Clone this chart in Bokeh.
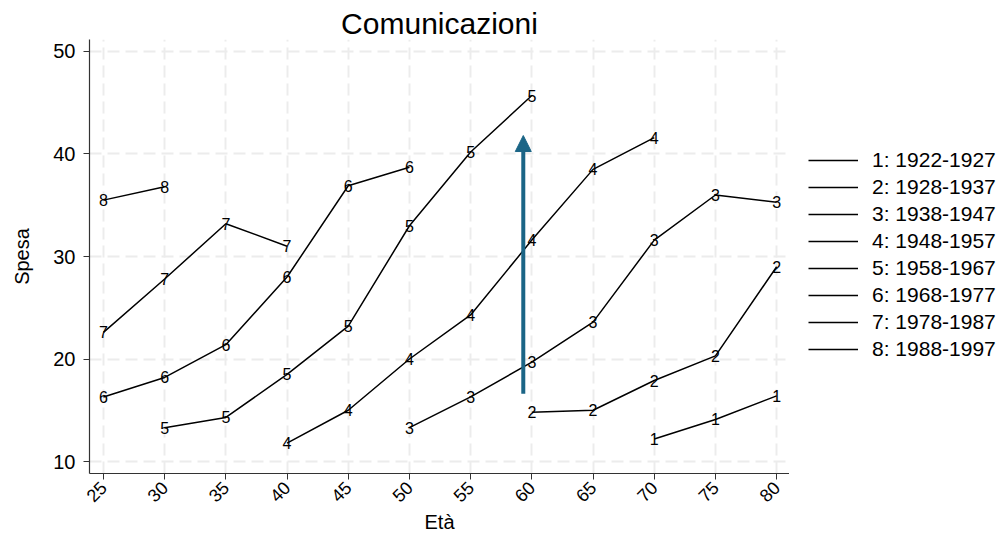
import numpy as np
from bokeh.plotting import figure
from bokeh.layouts import row
from bokeh.models import (ColumnDataSource, Legend, LegendItem, Arrow, NormalHead,
                          FixedTicker, Range1d)
from bokeh.core.properties import value
from bokeh.embed import file_html
from bokeh.resources import INLINE

# ---------------- data ----------------
title_text = "Comunicazioni"
x_label = "Età"
y_label = "Spesa"
x_ticks = [25, 30, 35, 40, 45, 50, 55, 60, 65, 70, 75, 80]
y_ticks = [10, 20, 30, 40, 50]

cohort_ids = ["1", "2", "3", "4", "5", "6", "7", "8"]
cohort_labels = ["1: 1922-1927", "2: 1928-1937", "3: 1938-1947", "4: 1948-1957",
                 "5: 1958-1967", "6: 1968-1977", "7: 1978-1987", "8: 1988-1997"]

age_c1 = [70, 75, 80]
spesa_c1 = [12.2, 14.1, 16.4]
age_c2 = [60, 65, 70, 75, 80]
spesa_c2 = [14.8, 15.0, 17.9, 20.3, 29.0]
age_c3 = [50, 55, 60, 65, 70, 75, 80]
spesa_c3 = [13.3, 16.3, 19.7, 23.6, 31.6, 36.0, 35.3]
age_c4 = [40, 45, 50, 55, 60, 65, 70]
spesa_c4 = [11.8, 15.0, 20.0, 24.3, 31.6, 38.5, 41.6]
age_c5 = [30, 35, 40, 45, 50, 55, 60]
spesa_c5 = [13.3, 14.3, 18.5, 23.2, 33.0, 40.2, 45.7]
age_c6 = [25, 30, 35, 40, 45, 50]
spesa_c6 = [16.3, 18.2, 21.4, 28.0, 36.9, 38.7]
age_c7 = [25, 30, 35, 40]
spesa_c7 = [22.6, 27.8, 33.2, 31.0]
age_c8 = [25, 30]
spesa_c8 = [35.5, 36.8]

arrow_x = 59.3
arrow_y_start = 16.6
arrow_y_end = 41.8

ages = [age_c1, age_c2, age_c3, age_c4, age_c5, age_c6, age_c7, age_c8]
spese = [spesa_c1, spesa_c2, spesa_c3, spesa_c4, spesa_c5, spesa_c6, spesa_c7, spesa_c8]

# ---------------- style ----------------
FONT = "Liberation Sans"
ARROW_COLOR = "#1b6586"
H = 535

p = figure(width=789, height=H,
           x_range=Range1d(23.86, 81.05), y_range=Range1d(8.83, 51.17),
           output_backend="svg", toolbar_location=None,
           min_border_left=89, min_border_top=39, min_border_bottom=57,
           min_border_right=0, outline_line_color=None,
           background_fill_color="white", border_fill_color="white")

p.title.text = title_text
p.title.align = "center"
p.title.text_font = FONT
p.title.text_font_size = "30px"
p.title.text_font_style = "normal"
p.title.text_color = "black"
p.title.standoff = 0
p.title.offset = 0

# axes
for ax in (p.xaxis[0], p.yaxis[0]):
    ax.axis_line_color = "#333333"
    ax.axis_line_width = 1.2
    ax.major_tick_line_color = "#333333"
    ax.major_tick_in = 0
    ax.major_tick_out = 6
    ax.minor_tick_line_color = None
    ax.major_label_text_font = FONT
    ax.major_label_text_color = "black"
    ax.axis_label_text_font = FONT
    ax.axis_label_text_font_style = "normal"
    ax.axis_label_text_color = "black"
    ax.axis_label_text_font_size = "20px"

p.xaxis.ticker = FixedTicker(ticks=x_ticks)
p.yaxis.ticker = FixedTicker(ticks=y_ticks)
p.xaxis.axis_label = x_label
p.yaxis.axis_label = y_label
p.xaxis.major_label_orientation = np.pi / 4
p.xaxis.major_label_text_font_size = "18px"
p.yaxis.major_label_text_font_size = "20px"
p.xaxis.major_label_standoff = 5
p.yaxis.major_label_standoff = 8
p.yaxis.axis_label_standoff = 17
p.xaxis.axis_label_standoff = 0

for g in (p.xgrid[0], p.ygrid[0]):
    g.grid_line_color = "#ececec"
    g.grid_line_width = 2
    g.grid_line_dash = "12 6"

# series
for cid, xs, ys in zip(cohort_ids, ages, spese):
    src = ColumnDataSource(dict(x=xs, y=ys, t=[cid] * len(xs)))
    p.line("x", "y", source=src, line_color="black", line_width=1.5)
    p.text("x", "y", text="t", source=src, text_align="center",
           text_baseline="middle", text_font=value(FONT),
           text_font_size="16px", text_color="black")

# arrow
p.add_layout(Arrow(end=NormalHead(size=16, fill_color=ARROW_COLOR,
                                  line_color=ARROW_COLOR, line_width=1),
                   x_start=arrow_x, y_start=arrow_y_start,
                   x_end=arrow_x, y_end=arrow_y_end,
                   line_color=ARROW_COLOR, line_width=4))

# legend panel (separate figure to the right)
q = figure(width=211, height=H, output_backend="svg", toolbar_location=None,
           x_axis_type=None, y_axis_type=None, min_border=0,
           outline_line_color=None, background_fill_color="white",
           border_fill_color="white", x_range=Range1d(0, 1), y_range=Range1d(0, 1))
q.grid.visible = False
items = []
for lab in cohort_labels:
    r = q.line(x=[np.nan], y=[np.nan], line_color="black", line_width=1.5)
    items.append(LegendItem(label=lab, renderers=[r]))

legend = Legend(items=items, location=(19, 112), border_line_color=None,
                background_fill_alpha=0, glyph_width=50, glyph_height=20,
                label_height=20, spacing=3, label_standoff=14,
                label_text_font=FONT, label_text_font_size="21px",
                label_text_color="black", margin=0, padding=0)
q.add_layout(legend)

layout = row(p, q, spacing=0)
open("out.html", "w").write(file_html(layout, INLINE))
